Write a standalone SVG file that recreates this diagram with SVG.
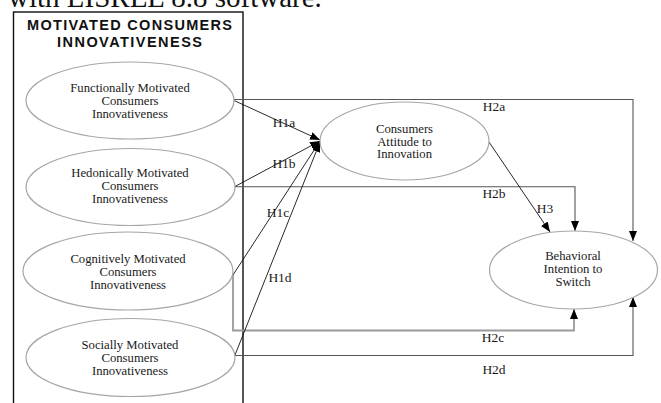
<svg xmlns="http://www.w3.org/2000/svg" width="661" height="403" viewBox="0 0 661 403">
<style>
.bg{fill:#ffffff}
.el{fill:#ffffff;stroke:#a6a6a6;stroke-width:1.2}
.t{font-family:"Liberation Serif","Times New Roman",serif;font-size:12.7px;fill:#1a1a1a;text-anchor:middle}
.lb{font-family:"Liberation Serif","Times New Roman",serif;font-size:13.5px;fill:#1a1a1a;text-anchor:middle}
.ttl{font-family:"Liberation Sans",Arial,sans-serif;font-size:14.5px;font-weight:bold;fill:#111;text-anchor:middle}
.box{fill:none;stroke:#111;stroke-width:1.4}
.h1{fill:none;stroke:#111;stroke-width:0.9}
.h2{fill:none;stroke:#555;stroke-width:1.1}
.h2c{fill:none;stroke:#9a9a9a;stroke-width:1.8}
</style>
<defs>
<marker id="ar" markerUnits="userSpaceOnUse" markerWidth="10" markerHeight="8" refX="10" refY="4" orient="auto">
<path d="M0,0 L10,4 L0,8 z" fill="#000"/>
</marker>
</defs>
<rect class="bg" x="0" y="0" width="661" height="403"/>
<text x="8" y="7" style="font-family:'Liberation Serif','Times New Roman',serif;font-size:29px;fill:#111">with LISREL 8.8 software.</text>

<g id="group-box">
<rect class="box" x="13.5" y="12" width="229.5" height="400"/>
<text class="ttl" x="129.5" y="29.5" textLength="205" lengthAdjust="spacing">MOTIVATED CONSUMERS</text>
<text class="ttl" x="129.5" y="47" textLength="145" lengthAdjust="spacing">INNOVATIVENESS</text>
</g>

<g id="connectors">
<polyline class="h2" points="234,99.5 633,99.5 633,241" marker-end="url(#ar)"/>
<polyline class="h2" points="235,186.7 575,186.7 575,231" marker-end="url(#ar)"/>
<polyline class="h2c" points="233,275 233,330.5 574,330.5 574,309" marker-end="url(#ar)"/>
<polyline class="h2" points="235,355.5 633,355.5 633,297" marker-end="url(#ar)"/>
<line class="h1" x1="489" y1="142" x2="550" y2="232" marker-end="url(#ar)"/>
<line class="h1" x1="233" y1="100" x2="320" y2="140" marker-end="url(#ar)"/>
<line class="h1" x1="234" y1="187" x2="320" y2="141" marker-end="url(#ar)"/>
<line class="h1" x1="233" y1="275" x2="320" y2="141" marker-end="url(#ar)"/>
<line class="h1" x1="235" y1="355" x2="320" y2="142" marker-end="url(#ar)"/>
<text class="lb" x="494" y="111">H2a</text>
<text class="lb" x="494" y="198">H2b</text>
<text class="lb" x="545" y="212.5">H3</text>
<text class="lb" x="493" y="341.5">H2c</text>
<text class="lb" x="494" y="374">H2d</text>
<text class="lb" x="284" y="127">H1a</text>
<text class="lb" x="284" y="167.5">H1b</text>
<text class="lb" x="278" y="216.5">H1c</text>
<text class="lb" x="280" y="282">H1d</text>
</g>

<g id="node-functional">
<ellipse class="el" cx="130" cy="100.5" rx="104" ry="38.5"/>
<text class="t" x="130" y="92">Functionally Motivated</text>
<text class="t" x="130" y="104.5">Consumers</text>
<text class="t" x="130" y="117.5">Innovativeness</text>
</g>
<g id="node-hedonic">
<ellipse class="el" cx="130.5" cy="187" rx="104.5" ry="38.5"/>
<text class="t" x="130" y="177">Hedonically Motivated</text>
<text class="t" x="130" y="189.5">Consumers</text>
<text class="t" x="130" y="202.5">Innovativeness</text>
</g>
<g id="node-cognitive">
<ellipse class="el" cx="128" cy="271" rx="105" ry="39"/>
<text class="t" x="128" y="263">Cognitively Motivated</text>
<text class="t" x="128" y="276">Consumers</text>
<text class="t" x="128" y="289">Innovativeness</text>
</g>
<g id="node-social">
<ellipse class="el" cx="130.5" cy="357.5" rx="104.5" ry="39"/>
<text class="t" x="130" y="349">Socially Motivated</text>
<text class="t" x="130" y="361.5">Consumers</text>
<text class="t" x="130" y="374.5">Innovativeness</text>
</g>
<g id="node-attitude">
<ellipse class="el" cx="404.5" cy="141" rx="84.5" ry="39"/>
<text class="t" x="404.5" y="133">Consumers</text>
<text class="t" x="404.5" y="145.5">Attitude to</text>
<text class="t" x="404.5" y="158">Innovation</text>
</g>
<g id="node-behavioral">
<ellipse class="el" cx="573.5" cy="270" rx="84" ry="39"/>
<text class="t" x="573" y="260">Behavioral</text>
<text class="t" x="573" y="273">Intention to</text>
<text class="t" x="573" y="286">Switch</text>
</g>
</svg>
